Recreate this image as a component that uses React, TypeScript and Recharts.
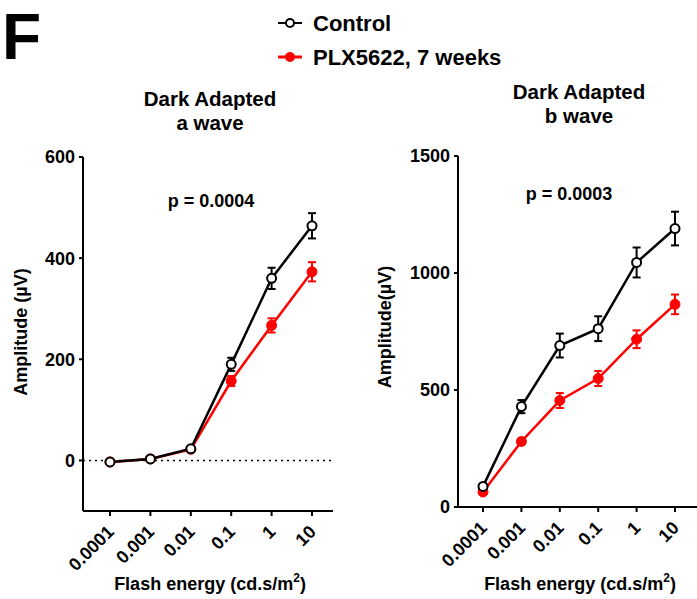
import React from 'react';
import { LineChart, Line, XAxis, YAxis, ErrorBar, ReferenceLine } from 'recharts';

const FONT = '"Liberation Sans", Arial, Helvetica, sans-serif';

// flash energies (cd.s/m2)
const categories = ['0.0001', '0.001', '0.01', '0.1', '1', '10'];

// a wave amplitude (uV)
const aControl = [-3, 3, 23, 190, 360, 464];
const aControlErr = [2, 2, 3, 13, 21, 25];
const aPlx = [-3, 3, 22, 157, 267, 373];
const aPlxErr = [2, 2, 3, 10, 14, 19];

// b wave amplitude (uV)
const bControl = [88, 429, 690, 762, 1045, 1190];
const bControlErr = [10, 28, 51, 53, 64, 72];
const bPlx = [64, 280, 455, 549, 717, 866];
const bPlxErr = [8, 12, 32, 32, 38, 42];

const aTicks = [0, 200, 400, 600];
const bTicks = [0, 500, 1000, 1500];

const aData = categories.map((cat, i) => ({
    cat,
    ctrl: aControl[i],
    ctrlErr: aControlErr[i],
    plx: aPlx[i],
    plxErr: aPlxErr[i],
}));

const bData = categories.map((cat, i) => ({
    cat,
    ctrl: bControl[i],
    ctrlErr: bControlErr[i],
    plx: bPlx[i],
    plxErr: bPlxErr[i],
}));

const XTick = (props: any) => {
    const { x, y, payload } = props;
    return (
        <g transform={`translate(${x + 5},${y + 15})`}>
            <text textAnchor="end" transform="rotate(-45)" fontSize={18} fontWeight="bold" fill="#000" fontFamily={FONT}>
                {payload.value}
            </text>
        </g>
    );
};

const tickStyle = { fontSize: 18, fontWeight: 'bold', fill: '#000', fontFamily: FONT };
const axisLine = { stroke: '#000', strokeWidth: 2 };

const Panel = ({ data, domain, ticks, margin, width, padding, zeroLine }: any) => (
    <LineChart width={width} height={599} data={data} margin={margin}>
        <XAxis
            dataKey="cat"
            height={1}
            interval={0}
            padding={padding}
            tickSize={5}
            tickMargin={2}
            axisLine={axisLine}
            tickLine={axisLine}
            tick={<XTick />}
        />
        <YAxis
            width={1}
            domain={domain}
            ticks={ticks}
            allowDataOverflow
            tickSize={4}
            tickMargin={4}
            axisLine={axisLine}
            tickLine={axisLine}
            tick={tickStyle}
        />
        {zeroLine && <ReferenceLine y={0} stroke="#000" strokeWidth={1.5} strokeDasharray="2 4" />}
        <Line
            dataKey="plx"
            stroke="#f00"
            strokeWidth={2.5}
            dot={{ r: 5, fill: '#f00', stroke: '#f00', strokeWidth: 1 }}
            activeDot={false}
            isAnimationActive={false}
        >
            <ErrorBar dataKey="plxErr" direction="y" width={4} stroke="#f00" strokeWidth={2} />
        </Line>
        <Line
            dataKey="ctrl"
            stroke="#000"
            strokeWidth={2.5}
            dot={{ r: 4.5, fill: '#fff', stroke: '#000', strokeWidth: 2 }}
            activeDot={false}
            isAnimationActive={false}
        >
            <ErrorBar dataKey="ctrlErr" direction="y" width={4} stroke="#000" strokeWidth={2} />
        </Line>
    </LineChart>
);

const XLabel = ({ cx }: { cx: number }) => (
    <text x={cx} y={590} textAnchor="middle" fontSize={18}>
        Flash energy (cd.s/m
        <tspan fontSize={12} dy={-8}>2</tspan>
        <tspan dy={8}>)</tspan>
    </text>
);

export default function App() {
    return (
        <div style={{ position: 'absolute', left: 0, top: 0, width: 697, height: 599, background: '#fff' }}>
            <div style={{ position: 'absolute', left: 0, top: 0 }}>
                <Panel
                    data={aData}
                    width={345}
                    domain={[-100, 600]}
                    ticks={aTicks}
                    margin={{ top: 157, right: 12, bottom: 87, left: 82 }}
                    padding={{ left: 27, right: 21 }}
                    zeroLine
                />
            </div>
            <div style={{ position: 'absolute', left: 350, top: 0 }}>
                <Panel
                    data={bData}
                    width={347}
                    domain={[0, 1500]}
                    ticks={bTicks}
                    margin={{ top: 156, right: 0, bottom: 91, left: 107 }}
                    padding={{ left: 25, right: 22 }}
                />
            </div>
            <svg
                width={697}
                height={599}
                style={{ position: 'absolute', left: 0, top: 0, pointerEvents: 'none' }}
                fontFamily={FONT}
                fontWeight="bold"
                fill="#000"
            >
                <text x={2} y={59} fontSize={64}>F</text>

                <line x1={278} y1={23} x2={302} y2={23} stroke="#000" strokeWidth={2} />
                <circle cx={290} cy={23} r={4} fill="#fff" stroke="#000" strokeWidth={2} />
                <text x={313} y={31} fontSize={22}>Control</text>
                <line x1={278} y1={57} x2={302} y2={57} stroke="#f00" strokeWidth={3} />
                <circle cx={290} cy={57} r={5} fill="#f00" />
                <text x={313} y={65} fontSize={22}>PLX5622, 7 weeks</text>

                <text x={210} y={106} textAnchor="middle" fontSize={20.5}>Dark Adapted</text>
                <text x={210} y={130} textAnchor="middle" fontSize={20.5}>a wave</text>
                <text x={579} y={99} textAnchor="middle" fontSize={20.5}>Dark Adapted</text>
                <text x={579} y={123} textAnchor="middle" fontSize={20.5}>b wave</text>

                <text x={211} y={207} textAnchor="middle" fontSize={18}>p = 0.0004</text>
                <text x={569} y={200} textAnchor="middle" fontSize={18}>p = 0.0003</text>

                <text x={27} y={332} textAnchor="middle" fontSize={18} transform="rotate(-90 27 332)">Amplitude (µV)</text>
                <text x={391} y={327} textAnchor="middle" fontSize={18} transform="rotate(-90 391 327)">Amplitude(µV)</text>

                <XLabel cx={210} />
                <XLabel cx={580} />
            </svg>
        </div>
    );
}
